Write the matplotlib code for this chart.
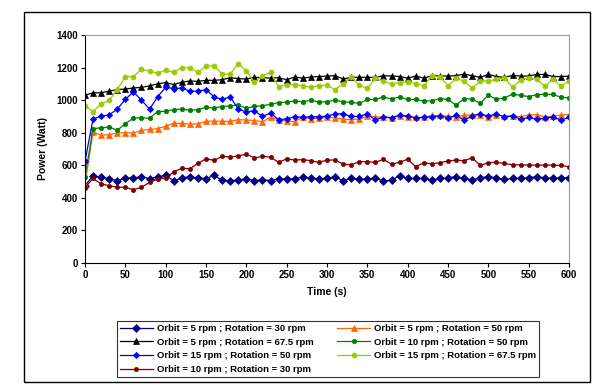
import numpy as np
import matplotlib
matplotlib.use('Agg')
import matplotlib.pyplot as plt
from matplotlib.patches import Rectangle

plt.rcParams['font.family'] = ['Liberation Sans', 'DejaVu Sans']
plt.rcParams['font.weight'] = 'bold'

time = list(range(0, 601, 10))

# Orbit = 5 rpm ; Rotation = 30 rpm
o5_r30 = [475, 535, 528, 518, 505, 522, 522, 530, 518, 530,
          538, 505, 522, 530, 522, 518, 538, 508, 505, 508,
          518, 505, 512, 505, 518, 515, 518, 528, 522, 518,
          519, 530, 505, 519, 515, 515, 523, 503, 509, 536,
          519, 519, 519, 509, 519, 523, 530, 519, 509, 523,
          530, 523, 513, 519, 519, 523, 530, 523, 519, 523, 523]
# Orbit = 5 rpm ; Rotation = 50 rpm
o5_r50 = [480, 805, 785, 788, 798, 800, 798, 815, 820, 825,
          840, 858, 858, 852, 855, 870, 872, 870, 870, 880,
          878, 875, 868, 895, 880, 870, 868, 895, 885, 888,
          894, 892, 883, 881, 883, 902, 898, 894, 892, 902,
          898, 894, 894, 906, 906, 902, 894, 908, 908, 908,
          898, 906, 904, 902, 898, 910, 910, 898, 900, 910, 910]
# Orbit = 5 rpm ; Rotation = 67.5 rpm
o5_r675 = [1030, 1045, 1045, 1055, 1065, 1068, 1075, 1078, 1088, 1100,
           1108, 1095, 1110, 1118, 1115, 1122, 1122, 1125, 1138, 1132,
           1130, 1140, 1138, 1135, 1138, 1125, 1142, 1135, 1142, 1145,
           1148, 1150, 1130, 1140, 1140, 1140, 1140, 1150, 1148, 1145,
           1135, 1148, 1135, 1150, 1148, 1148, 1150, 1160, 1150, 1140,
           1158, 1145, 1140, 1152, 1148, 1148, 1158, 1158, 1145, 1145, 1147]
# Orbit = 10 rpm ; Rotation = 50 rpm
o10_r50 = [530, 825, 830, 835, 815, 855, 890, 892, 888, 930,
           932, 942, 945, 938, 942, 955, 952, 960, 965, 970,
           950, 962, 965, 975, 985, 988, 995, 990, 1000, 988,
           990, 1000, 990, 986, 980, 1004, 1004, 1020, 1006, 1020,
           1004, 1004, 994, 996, 1010, 1004, 969, 1010, 1006, 980,
           1031, 1004, 1014, 1037, 1029, 1022, 1033, 1037, 1035, 1018, 1014]
# Orbit = 15 rpm ; Rotation = 50 rpm
o15_r50 = [625, 885, 900, 910, 945, 1005, 1050, 1000, 945, 1020,
           1080, 1070, 1075, 1055, 1055, 1065, 1020, 1005, 1020, 945,
           928, 935, 900, 920, 880, 885, 898, 895, 898, 898,
           902, 916, 916, 900, 900, 916, 877, 898, 892, 908,
           902, 892, 894, 898, 902, 892, 906, 877, 904, 916,
           902, 916, 896, 904, 883, 894, 883, 888, 898, 877, 894]
# Orbit = 15 rpm ; Rotation = 67.5 rpm
o15_r675 = [965, 930, 978, 998, 1065, 1145, 1145, 1190, 1178, 1165,
            1185, 1170, 1200, 1198, 1170, 1210, 1210, 1160, 1160, 1225,
            1180, 1110, 1150, 1170, 1080, 1095, 1095, 1088, 1080, 1088,
            1092, 1065, 1102, 1143, 1092, 1072, 1133, 1118, 1098, 1108,
            1112, 1102, 1088, 1147, 1143, 1088, 1133, 1117, 1072, 1117,
            1118, 1127, 1137, 1078, 1123, 1137, 1127, 1086, 1127, 1086, 1117]
# Orbit = 10 rpm ; Rotation = 30 rpm
o10_r30 = [462, 520, 485, 475, 465, 465, 450, 465, 495, 515,
           522, 560, 582, 578, 612, 640, 630, 655, 650, 658,
           668, 645, 655, 650, 618, 640, 632, 635, 628, 618,
           632, 632, 607, 603, 622, 622, 618, 636, 607, 618,
           638, 591, 616, 609, 616, 626, 632, 628, 646, 599,
           616, 618, 611, 603, 603, 601, 601, 601, 601, 599, 591]

series = [
    ('Orbit = 5 rpm ; Rotation = 30 rpm', o5_r30, '#000080', 'D', 4.0),
    ('Orbit = 5 rpm ; Rotation = 50 rpm', o5_r50, '#FF6600', '^', 4.0),
    ('Orbit = 5 rpm ; Rotation = 67.5 rpm', o5_r675, '#000000', '^', 4.0),
    ('Orbit = 10 rpm ; Rotation = 50 rpm', o10_r50, '#008000', 'o', 3.2),
    ('Orbit = 15 rpm ; Rotation = 50 rpm', o15_r50, '#0000FF', 'D', 3.2),
    ('Orbit = 15 rpm ; Rotation = 67.5 rpm', o15_r675, '#99CC00', 'o', 3.6),
    ('Orbit = 10 rpm ; Rotation = 30 rpm', o10_r30, '#800000', 'o', 3.0),
]

fig = plt.figure(figsize=(6.05, 3.85), dpi=100)
ax = fig.add_axes([85/605, 1-263/385, (569-85)/605, (263-35)/385])

handles = {}
for name, vals, col, mk, ms in series:
    h, = ax.plot(time, vals, color=col, marker=mk, markersize=ms, linewidth=0.9,
                 markeredgewidth=0.5, label=name)
    handles[name] = h

ax.set_xlim(0, 600)
ax.set_ylim(0, 1400)
ax.set_xticks(range(0, 601, 50))
ax.set_yticks(range(0, 1401, 200))
ax.tick_params(labelsize=7, length=3, width=0.8, direction='out', pad=2)
for lab in ax.get_xticklabels() + ax.get_yticklabels():
    lab.set_fontweight('bold')

ax.spines['left'].set_color('black')
ax.spines['bottom'].set_color('black')
ax.spines['top'].set_color('#999999')
ax.spines['right'].set_color('#999999')

ax.set_xlabel('Time (s)', fontsize=7.5, fontweight='bold', labelpad=5)
ax.set_ylabel('Power (Watt)', fontsize=7.5, fontweight='bold', labelpad=6)

# legend filled row-wise like the original, matplotlib fills columns
names = [s[0] for s in series]
order = [names[0], names[2], names[4], names[6], names[1], names[3], names[5]]
leg = fig.legend([handles[n] for n in order], order, ncol=2, loc='center',
                 bbox_to_anchor=(328/605, 1-349/385), fontsize=6.8,
                 frameon=True, fancybox=False, edgecolor='black',
                 handlelength=3.5, handletextpad=0.4, columnspacing=2.5,
                 labelspacing=0.5, borderpad=0.35)
leg.get_frame().set_linewidth(0.8)
for t in leg.get_texts():
    t.set_fontweight('bold')

fig.patches.append(Rectangle((24/605, 1-382/385), (590-24)/605, (382-12)/385,
                             transform=fig.transFigure, fill=False,
                             edgecolor='black', linewidth=1.0))

fig.savefig('out.png', dpi=100)
